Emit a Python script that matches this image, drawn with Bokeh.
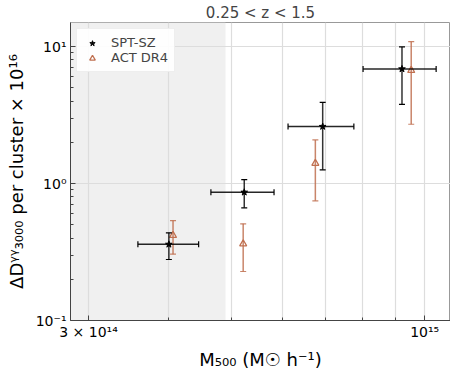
from bokeh.plotting import figure
from bokeh.models import (FixedTicker, Whisker, ColumnDataSource, BoxAnnotation,
                          TeeHead, Legend, LegendItem)
from bokeh.embed import file_html
from bokeh.resources import INLINE

# ---- data ----
spt_mass = [4.00e14, 5.24e14, 6.94e14, 9.22e14]
spt_mass_lo = [3.58e14, 4.65e14, 6.13e14, 8.02e14]
spt_mass_hi = [4.45e14, 5.83e14, 7.76e14, 1.042e15]
spt_dl = [0.360, 0.864, 2.61, 6.87]
spt_dl_lo = [0.279, 0.665, 1.26, 3.79]
spt_dl_hi = [0.437, 1.07, 3.92, 9.95]

act_mass = [4.06e14, 5.22e14, 6.76e14, 9.53e14]
act_dl = [0.418, 0.363, 1.406, 6.70]
act_dl_lo = [0.305, 0.228, 0.748, 2.71]
act_dl_hi = [0.537, 0.508, 2.084, 10.87]

shade_max_mass = 4.9e14

x_major = [3e14, 1e15]
x_major_labels = {3e14: "3 × 10¹⁴", 1e15: "10¹⁵"}
x_minor = [4e14, 5e14, 6e14, 7e14, 8e14, 9e14]
y_major = [0.1, 1.0, 10.0]
y_major_labels = {0.1: "10⁻¹", 1.0: "10⁰", 10.0: "10¹"}
y_minor = [0.2, 0.3, 0.4, 0.5, 0.6, 0.7, 0.8, 0.9, 2, 3, 4, 5, 6, 7, 8, 9]

FONT = "DejaVu Sans"
ACT_COLOR = "#c07050"

p = figure(x_axis_type="log", y_axis_type="log",
           x_range=(2.812e14, 1.097e15), y_range=(0.1, 15.0),
           frame_width=380, frame_height=298,
           min_border_left=70, min_border_right=0, min_border_top=14, min_border_bottom=48,
           output_backend="svg", toolbar_location=None,
           title="0.25 < z < 1.5")
p.title.align = "center"
p.title.text_font = FONT
p.title.text_font_size = "15px"
p.title.text_font_style = "normal"
p.title.standoff = 2

p.background_fill_color = "white"
p.border_fill_color = "white"
p.outline_line_color = "#999999"

shade = BoxAnnotation(right=shade_max_mass, fill_color="#f0f0f0", fill_alpha=1.0,
                      line_color=None, level="image")
p.add_layout(shade)

# axes & ticks
p.xaxis.ticker = FixedTicker(ticks=x_major, minor_ticks=x_minor)
p.yaxis.ticker = FixedTicker(ticks=y_major, minor_ticks=y_minor)
p.xaxis.major_label_overrides = x_major_labels
p.yaxis.major_label_overrides = y_major_labels

for ax in (p.xaxis, p.yaxis):
    ax.major_tick_in = 5
    ax.major_tick_out = 0
    ax.minor_tick_in = 3
    ax.minor_tick_out = 0
    ax.axis_line_color = "#444444"
    ax.major_tick_line_color = "#444444"
    ax.minor_tick_line_color = "#444444"
    ax.major_label_text_font = FONT
    ax.major_label_text_font_size = "14px"
    ax.major_label_text_color = "black"
    ax.axis_label_text_font = FONT
    ax.axis_label_text_font_size = "18px"
    ax.axis_label_text_font_style = "normal"
    ax.axis_label_text_color = "black"

p.xaxis.major_label_standoff = 3
p.yaxis.major_label_standoff = 4
p.xaxis.axis_label = "M₅₀₀ (M☉ h⁻¹)"
p.yaxis.axis_label = "ΔDᵞᵞ₃₀₀₀ per cluster × 10¹⁶"
p.xaxis.axis_label_standoff = 6
p.yaxis.axis_label_standoff = 6

p.xgrid.grid_line_color = "#dddddd"
p.xgrid.minor_grid_line_color = "#dddddd"
p.ygrid.grid_line_color = "#dddddd"
p.ygrid.minor_grid_line_color = None
p.xgrid.grid_line_width = 1.2
p.xgrid.minor_grid_line_width = 1.2
p.ygrid.grid_line_width = 1.2

spt = ColumnDataSource(dict(x=spt_mass, y=spt_dl, xlo=spt_mass_lo, xhi=spt_mass_hi,
                            ylo=spt_dl_lo, yhi=spt_dl_hi))
act = ColumnDataSource(dict(x=act_mass, y=act_dl, ylo=act_dl_lo, yhi=act_dl_hi))

# ACT error bars
wa = Whisker(source=act, base="x", lower="ylo", upper="yhi", dimension="height",
             line_color=ACT_COLOR, line_width=1.5, line_alpha=0.85, level="glyph",
             lower_head=TeeHead(size=6, line_color=ACT_COLOR, line_width=1.2, line_alpha=0.85),
             upper_head=TeeHead(size=6, line_color=ACT_COLOR, line_width=1.2, line_alpha=0.85))
p.add_layout(wa)

# SPT error bars
wsy = Whisker(source=spt, base="x", lower="ylo", upper="yhi", dimension="height",
              line_color="black", line_width=1.5, line_alpha=0.8, level="glyph",
              lower_head=TeeHead(size=6, line_color="black", line_width=1.2),
              upper_head=TeeHead(size=6, line_color="black", line_width=1.2))
wsx = Whisker(source=spt, base="y", lower="xlo", upper="xhi", dimension="width",
              line_color="black", line_width=1.5, line_alpha=0.85, level="glyph",
              lower_head=TeeHead(size=6, line_color="black", line_width=1.2),
              upper_head=TeeHead(size=6, line_color="black", line_width=1.2))
p.add_layout(wsy)
p.add_layout(wsx)

r_act = p.scatter("x", "y", source=act, marker="triangle", size=7,
                  fill_color=None, line_color=ACT_COLOR, line_width=1.3)
r_spt = p.scatter("x", "y", source=spt, marker="star", size=7,
                  fill_color="black", line_color="black")

legend = Legend(items=[LegendItem(label="SPT-SZ", renderers=[r_spt]),
                       LegendItem(label="ACT DR4", renderers=[r_act])],
                location="top_left")
legend.label_text_font = FONT
legend.label_text_font_size = "13px"
legend.glyph_width = 18
legend.glyph_height = 14
legend.label_height = 14
legend.label_standoff = 10
legend.spacing = 0
legend.padding = 6
legend.margin = 6
legend.border_line_color = "#dddddd"
legend.background_fill_alpha = 0.9
p.add_layout(legend)

open("out.html", "w").write(file_html(p, INLINE))
